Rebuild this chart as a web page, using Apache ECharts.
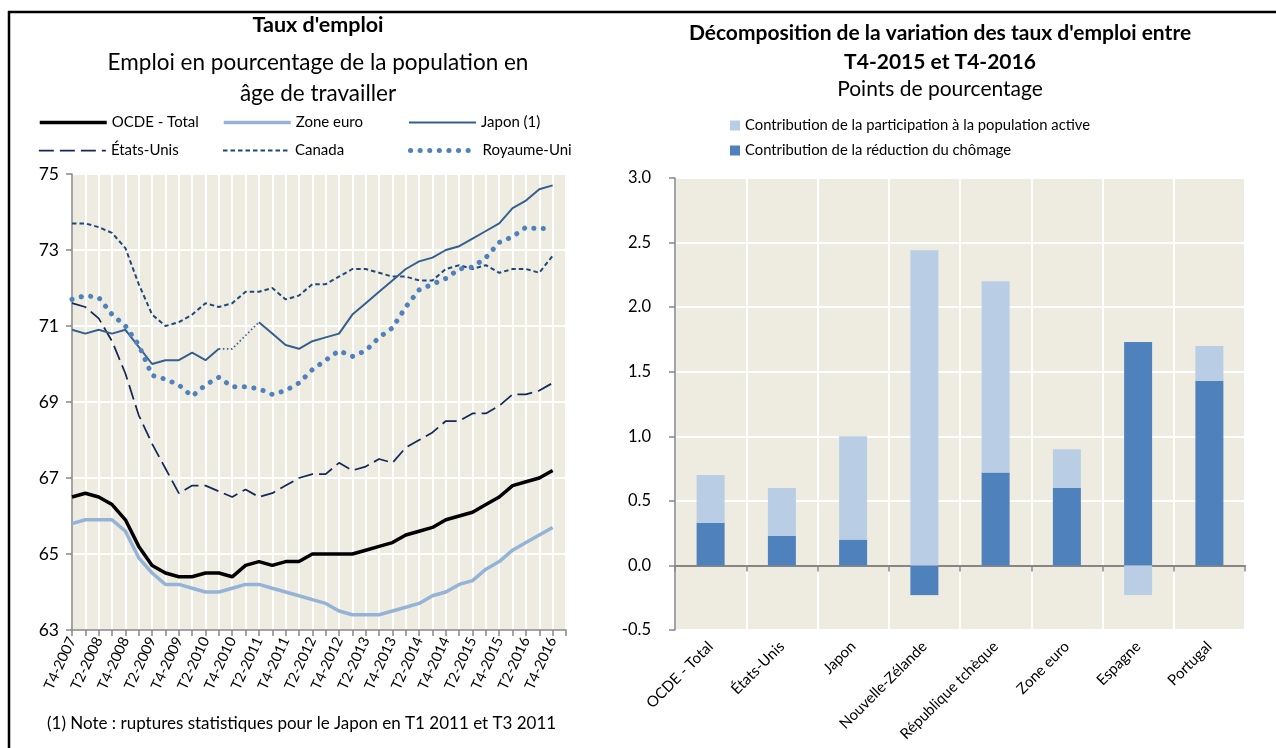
<!DOCTYPE html>
<html><head><meta charset="utf-8">
<script src="https://cdn.jsdelivr.net/npm/echarts@6/dist/echarts.min.js"></script>
<style>html,body{margin:0;padding:0;background:#fff}#c{width:1276px;height:748px}</style>
</head><body><div id="c"></div>
<script>
// ---- Left chart: employment rates (quarterly) ----
const quarters = ['T4-2007','T1-2008','T2-2008','T3-2008','T4-2008','T1-2009','T2-2009','T3-2009','T4-2009',
  'T1-2010','T2-2010','T3-2010','T4-2010','T1-2011','T2-2011','T3-2011','T4-2011','T1-2012','T2-2012','T3-2012',
  'T4-2012','T1-2013','T2-2013','T3-2013','T4-2013','T1-2014','T2-2014','T3-2014','T4-2014','T1-2015','T2-2015',
  'T3-2015','T4-2015','T1-2016','T2-2016','T3-2016','T4-2016',''];
const yTicksLeft = ['63','65','67','69','71','73','75'];
const ocde = [66.5,66.6,66.5,66.3,65.9,65.2,64.7,64.5,64.4,64.4,64.5,64.5,64.4,64.7,64.8,64.7,64.8,64.8,65.0,65.0,
  65.0,65.0,65.1,65.2,65.3,65.5,65.6,65.7,65.9,66.0,66.1,66.3,66.5,66.8,66.9,67.0,67.2];
const zoneEuro = [65.8,65.9,65.9,65.9,65.6,64.9,64.5,64.2,64.2,64.1,64.0,64.0,64.1,64.2,64.2,64.1,64.0,63.9,63.8,63.7,
  63.5,63.4,63.4,63.4,63.5,63.6,63.7,63.9,64.0,64.2,64.3,64.6,64.8,65.1,65.3,65.5,65.7];
const japon = [70.9,70.8,70.9,70.8,70.9,70.45,70.0,70.1,70.1,70.3,70.1,70.4,70.4,70.75,71.1,70.8,70.5,70.4,70.6,70.7,
  70.8,71.3,71.6,71.9,72.2,72.5,72.7,72.8,73.0,73.1,73.3,73.5,73.7,74.1,74.3,74.6,74.7];
const japonRupture = [11, 14]; // segment drawn dotted (statistical breaks)
const etatsUnis = [71.6,71.5,71.2,70.6,69.75,68.65,67.9,67.25,66.6,66.8,66.8,66.65,66.5,66.7,66.5,66.6,66.8,67.0,67.1,67.1,
  67.4,67.2,67.3,67.5,67.4,67.8,68.0,68.2,68.5,68.5,68.7,68.7,68.9,69.2,69.2,69.3,69.5];
const canada = [73.7,73.7,73.6,73.45,73.05,72.1,71.3,71.0,71.1,71.3,71.6,71.5,71.6,71.9,71.9,72.0,71.7,71.8,72.1,72.1,
  72.3,72.5,72.5,72.4,72.3,72.3,72.2,72.2,72.5,72.6,72.5,72.6,72.4,72.5,72.5,72.4,72.85];
const royaumeUni = [71.7,71.8,71.75,71.3,71.0,70.5,69.7,69.6,69.45,69.15,69.45,69.65,69.4,69.4,69.35,69.2,69.3,69.5,69.85,70.1,
  70.35,70.2,70.35,70.7,70.95,71.5,71.95,72.1,72.25,72.5,72.55,72.8,73.2,73.35,73.6,73.55,73.6];

// ---- Right chart: decomposition ----
const barCategories = ['OCDE - Total','États-Unis','Japon','Nouvelle-Zélande','République tchèque','Zone euro','Espagne','Portugal'];
const participation = [0.37,0.37,0.80,2.44,1.48,0.30,-0.23,0.27];
const chomage = [0.33,0.23,0.20,-0.23,0.72,0.60,1.73,1.43];
const partName = 'Contribution de la participation à la population active';
const chomName = 'Contribution de la réduction du chômage';

const F = 'Lato, "Liberation Sans", sans-serif';
const AX = '#868686';

const japonSolid = japon.map((v,i) => (i > japonRupture[0] && i < japonRupture[1]) ? null : v);
const japonDotted = japon.map((v,i) => (i >= japonRupture[0] && i <= japonRupture[1]) ? v : null);

const styles = {
  'Zone euro':    {color:'#95B3D7', width:3.5, type:'solid', cap:'butt'},
  'OCDE - Total': {color:'#000000', width:3.5, type:'solid', cap:'butt'},
  'États-Unis':   {color:'#14285A', width:1.75, type:[15, 6], cap:'butt'},
  'Canada':       {color:'#1F497D', width:2, type:[4.5, 3], cap:'butt'},
  'Japon (1)':    {color:'#365F91', width:2, type:'solid', cap:'butt'},
  'Japon (rupture)': {color:'#365F91', width:1.75, type:[1.5, 2.5], cap:'butt'},
  'Royaume-Uni':  {color:'#4F81BD', width:5, type:[0.1, 9.5], cap:'round'}
};

function lineLegend(name, left, top) {
  const s = styles[name];
  return {data:[name], left:left, top:top, itemWidth:67, itemHeight:14, padding:0, selectedMode:false,
    itemStyle:{opacity:0},
    lineStyle:{width:s.width, type:s.type, cap:s.cap, color:s.color},
    textStyle:{fontSize:15, fontFamily:F, color:'#000'}};
}
function lineSeries(name, data) {
  const s = styles[name];
  return {name:name, type:'line', data:data, xAxisIndex:0, yAxisIndex:0, symbol:'none', showSymbol:false,
    lineStyle:{color:s.color, width:s.width, type:s.type, cap:s.cap}, itemStyle:{color:s.color}, emphasis:{disabled:true}};
}

const chart = echarts.init(document.getElementById('c'), null, {renderer:'canvas'});
chart.setOption({
  animation:false,
  textStyle:{fontFamily:F, color:'#000'},
  title:[
    {text:"Taux d'emploi", left:318, top:14, textAlign:'center', padding:0,
      textStyle:{fontSize:21.5, fontWeight:'bold', color:'#000', fontFamily:F}},
    {text:'Emploi en pourcentage de la population en\nâge de travailler', left:318, top:47, textAlign:'center', padding:0,
      textStyle:{fontSize:22.5, fontWeight:'normal', lineHeight:31, color:'#000', fontFamily:F}},
    {text:"Décomposition de la variation des taux d'emploi entre\nT4-2015 et T4-2016", left:940, top:18, textAlign:'center', padding:0,
      textStyle:{fontSize:21, fontWeight:'bold', lineHeight:29.5, color:'#000', fontFamily:F}},
    {text:'Points de pourcentage', left:940, top:79, textAlign:'center', padding:0,
      textStyle:{fontSize:21, fontWeight:'normal', color:'#000', fontFamily:F}},
    {text:'(1) Note : ruptures statistiques pour le Japon en T1 2011 et T3 2011', left:47, top:715, padding:0,
      textStyle:{fontSize:17, fontWeight:'normal', color:'#000', fontFamily:F}}
  ],
  legend:[
    lineLegend('OCDE - Total', 38, 115), lineLegend('Zone euro', 222, 115), lineLegend('Japon (1)', 408, 115),
    lineLegend('États-Unis', 38, 143), lineLegend('Canada', 222, 143), lineLegend('Royaume-Uni', 408, 143),
    {data:[partName, chomName], orient:'vertical', left:730, top:118, itemWidth:10, itemHeight:10, itemGap:10,
      icon:'rect', padding:0, selectedMode:false, textStyle:{fontSize:14.8, fontFamily:F, color:'#000'}}
  ],
  grid:[
    {left:72, top:174, width:494, height:456, show:true, backgroundColor:'#EEECE1', borderWidth:0, outerBoundsMode:'none'},
    {left:675, top:178, width:570, height:452, show:true, backgroundColor:'#EEECE1', borderWidth:0, outerBoundsMode:'none'}
  ],
  xAxis:[
    {gridIndex:0, type:'category', data:quarters, boundaryGap:false,
      axisLine:{show:true, onZero:false, lineStyle:{color:AX, width:1.5}},
      axisTick:{show:true, interval:0, length:6, lineStyle:{color:AX, width:1.5}},
      axisLabel:{interval:1, rotate:65, fontSize:14.5, margin:8, color:'#000', fontFamily:F},
      splitLine:{show:true, interval:0, lineStyle:{color:'#fff', width:2}}},
    {gridIndex:1, type:'category', data:barCategories,
      axisLine:{show:true, onZero:true, lineStyle:{color:AX, width:2}},
      axisTick:{show:true, interval:0, length:6, lineStyle:{color:AX, width:1.5}},
      axisLabel:{show:false},
      splitLine:{show:true, interval:0, lineStyle:{color:'#fff', width:2}}},
    {gridIndex:1, type:'category', data:barCategories, position:'bottom',
      axisLine:{show:false, onZero:false}, axisTick:{show:false},
      axisLabel:{interval:0, rotate:45, fontSize:15, margin:14, color:'#000', fontFamily:F},
      splitLine:{show:false}}
  ],
  yAxis:[
    {gridIndex:0, type:'value', min:63, max:75, show:false},
    {gridIndex:0, type:'category', data:yTicksLeft, boundaryGap:false, position:'left',
      axisLine:{show:true, lineStyle:{color:AX, width:1.5}},
      axisTick:{show:true, length:6, lineStyle:{color:AX, width:1.5}},
      axisLabel:{fontSize:17.5, margin:13, color:'#000', fontFamily:F},
      splitLine:{show:true, lineStyle:{color:'#fff', width:2}}},
    {gridIndex:1, type:'value', min:-0.5, max:3, interval:0.5,
      axisLine:{show:true, lineStyle:{color:AX, width:1.5}},
      axisTick:{show:true, length:6, lineStyle:{color:AX, width:1.5}},
      axisLabel:{fontSize:16.5, margin:24, color:'#000', fontFamily:F, formatter:v => v.toFixed(1)},
      splitLine:{show:true, lineStyle:{color:'#fff', width:2}}}
  ],
  series:[
    lineSeries('Zone euro', zoneEuro),
    lineSeries('OCDE - Total', ocde),
    lineSeries('États-Unis', etatsUnis),
    lineSeries('Canada', canada),
    lineSeries('Japon (1)', japonSolid),
    lineSeries('Japon (rupture)', japonDotted),
    lineSeries('Royaume-Uni', royaumeUni),
    {name:chomName, type:'bar', stack:'c', xAxisIndex:1, yAxisIndex:2, data:chomage, barWidth:28,
      itemStyle:{color:'#4F81BD'}, emphasis:{disabled:true}},
    {name:partName, type:'bar', stack:'c', xAxisIndex:1, yAxisIndex:2, data:participation, barWidth:28,
      itemStyle:{color:'#B9CDE5'}, emphasis:{disabled:true}}
  ],
  graphic:[
    {type:'line', shape:{x1:8, y1:12, x2:1276, y2:12}, style:{stroke:'#000', lineWidth:2.5}},
    {type:'line', shape:{x1:9, y1:11, x2:9, y2:748}, style:{stroke:'#000', lineWidth:2.5}}
  ]
});
</script></body></html>
